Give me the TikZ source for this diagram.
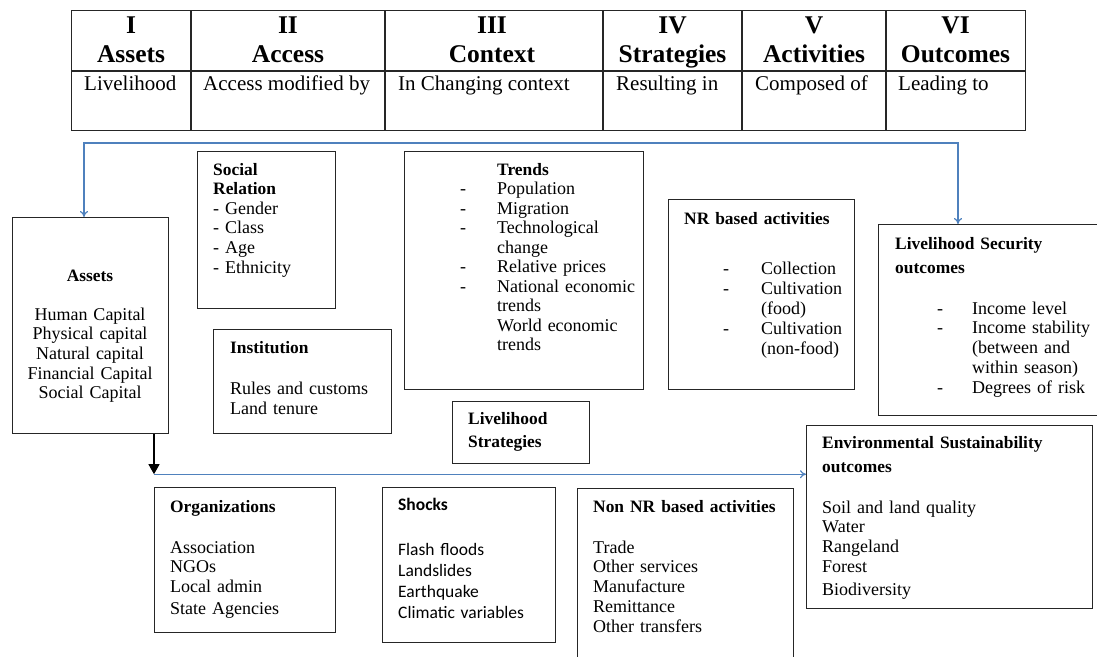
\documentclass[tikz,border=0pt]{standalone}
\usepackage{fontspec}
\setmainfont{Liberation Serif}
\newfontfamily\calib{Carlito}
\usetikzlibrary{arrows.meta,calc}
\definecolor{lineblue}{HTML}{4F81BD}
\newcommand\dsh[1][35pt]{\makebox[#1][l]{-}}
\newcommand\hb[1]{{\fontsize{17.4}{19.6}\selectfont\bfseries #1}}
\begin{document}
\begin{tikzpicture}[x=1pt,y=-1pt,
  box/.style={draw=black!85, line width=1.2pt, rectangle, inner sep=0pt, anchor=north west},
  txt/.style={inner sep=0pt, anchor=base west, align=left, text width=270pt, font=\fontsize{18}{19.6}\selectfont},
  hd/.style={inner sep=0pt, anchor=base, align=center, text width=140pt, font=\fontsize{25.5}{29}\selectfont\bfseries},
  sub/.style={inner sep=0pt, anchor=base west, font=\fontsize{21}{24}\selectfont},
  bl/.style={draw=lineblue, line width=1.2pt},
]
\useasboundingbox (0,0) rectangle (1097,656);

% ---------- table ----------
\node[box, line width=1.4pt, minimum width=954pt, minimum height=120pt] (tbl) at (71,10) {};
\draw[line width=1.4pt, black!85] ($(tbl.north west)+(0,61)$) -- ($(tbl.north east)+(0,61)$);
\foreach \dx in {120,314,532,671,815}
  \draw[line width=1.4pt, black!85] ($(tbl.north west)+(\dx,0)$) -- ($(tbl.south west)+(\dx,0)$);

\node[hd] (h1) at (131,33) {I\\Assets};
\node[hd] (h2) at (288,33) {II\\Access};
\node[hd] (h3) at (492,33) {III\\Context};
\node[hd] (h4) at (672.5,33) {IV\\Strategies};
\node[hd] (h5) at (814,33) {V\\Activities};
\node[hd] (h6) at (955.5,33) {VI\\Outcomes};

\node[sub] (r1) at (84,90) {Livelihood};
\node[sub] (r2) at (203,90) {Access modified by};
\node[sub] (r3) at (398,90) {In Changing context};
\node[sub] (r4) at (616,90) {Resulting in};
\node[sub] (r5) at (755,90) {Composed of};
\node[sub] (r6) at (898,90) {Leading to};

% ---------- boxes ----------
\node[box, minimum width=156pt, minimum height=216pt] (assets) at (12,217) {};
\node[box, minimum width=138pt, minimum height=157pt] (social) at (197,151) {};
\node[box, minimum width=178pt, minimum height=104pt] (inst) at (213,329) {};
\node[box, minimum width=239pt, minimum height=238pt] (trends) at (404,151) {};
\node[box, minimum width=186pt, minimum height=190pt] (nr) at (668,199) {};
\node[box, minimum width=137pt, minimum height=62pt] (strat) at (452,401) {};
\node[box, minimum width=232pt, minimum height=191pt] (lsout) at (878,224) {};
\node[box, minimum width=286pt, minimum height=183pt] (env) at (806,425) {};
\node[box, minimum width=181pt, minimum height=145pt] (org) at (154,487) {};
\node[box, minimum width=173pt, minimum height=155pt] (shocks) at (382,487) {};
\node[box, minimum width=216pt, minimum height=190pt] (nonnr) at (577,488) {};

% ---------- texts ----------
\node[txt, anchor=base, align=center, text width=150pt,
      font=\fontsize{18}{19.7}\selectfont] (assetsT) at (90,281)
  {\hb{Assets}\\[19.3pt]Human Capital\\Physical capital\\Natural capital\\Financial Capital\\Social Capital};

\node[txt] (socialT) at (213,175)
  {\hb{Social}\\\hb{Relation}\\- Gender\\- Class\\- Age\\- Ethnicity};

\node[txt, font=\fontsize{18}{20}\selectfont] (instT) at (230,353)
  {\hb{Institution}\\[21pt]Rules and customs\\Land tenure};

\node[txt, font=\fontsize{18}{19.5}\selectfont] (trendsT) at (460,175)
  {\hspace*{37pt}\hb{Trends}\\
   \dsh[37pt]Population\\
   \dsh[37pt]Migration\\
   \dsh[37pt]Technological\\
   \hspace*{37pt}change\\
   \dsh[37pt]Relative prices\\
   \dsh[37pt]National economic\\
   \hspace*{37pt}trends\\
   \hspace*{37pt}World economic\\
   \hspace*{37pt}trends};

\node[txt, font=\fontsize{18}{20}\selectfont] (nrH) at (684,224)
  {\hb{NR based activities}\\[30pt]
   \hspace*{39pt}\dsh[38pt]Collection\\
   \hspace*{39pt}\dsh[38pt]Cultivation\\
   \hspace*{77pt}(food)\\
   \hspace*{39pt}\dsh[38pt]Cultivation\\
   \hspace*{77pt}(non-food)};

\node[txt, font=\fontsize{17.4}{23}\selectfont\bfseries] (stratT) at (468,424)
  {Livelihood\\Strategies};

\node[txt, font=\fontsize{18}{19.8}\selectfont] (lsoutT) at (895,249)
  {\hb{Livelihood Security}\\[4.2pt]\hb{outcomes}\\[21.2pt]
   \hspace*{42pt}\dsh[35pt]Income level\\
   \hspace*{42pt}\dsh[35pt]Income stability\\
   \hspace*{77pt}(between and\\
   \hspace*{77pt}within season)\\
   \hspace*{42pt}\dsh[35pt]Degrees of risk};

\node[txt, font=\fontsize{18}{19.8}\selectfont] (envT) at (822,448)
  {\hb{Environmental Sustainability}\\[4.2pt]\hb{outcomes}\\[21.2pt]
   Soil and land quality\\Water\\Rangeland\\Forest\\[2.8pt]Biodiversity};

\node[txt, font=\fontsize{18}{19.6}\selectfont] (orgT) at (170,512)
  {\hb{Organizations}\\[21.4pt]Association\\NGOs\\Local admin\\[2.2pt]State Agencies};

\node[txt, font=\calib\fontsize{17.5}{21.3}\selectfont] (shocksT) at (398,510)
  {\textbf{Shocks}\\[23.7pt]Flash floods\\Landslides\\Earthquake\\Climatic variables};

\node[txt, font=\fontsize{18}{19.8}\selectfont] (nonnrT) at (593,512)
  {\hb{Non NR based activities}\\[21.2pt]Trade\\Other services\\Manufacture\\Remittance\\Other transfers};

% ---------- connectors ----------
\coordinate (a1) at ($(assets.north west)+(72,0)$);
\coordinate (b1) at ($(lsout.north west)+(80,0)$);
\draw[bl, {To[length=6pt,width=8pt]}-{To[length=6pt,width=8pt]}] (a1) -- ++(0,-74) -| (b1);

\coordinate (a2) at ($(assets.south west)+(142,0)$);
\coordinate (c1) at ($(a2)+(0,40)$);
\draw[line width=1.2pt, black, -{Triangle[length=10pt,width=11pt]}] (a2) -- (c1);
\draw[bl, -{To[length=6pt,width=8pt]}] (c1) -- (c1 -| env.west);
\end{tikzpicture}
\end{document}
